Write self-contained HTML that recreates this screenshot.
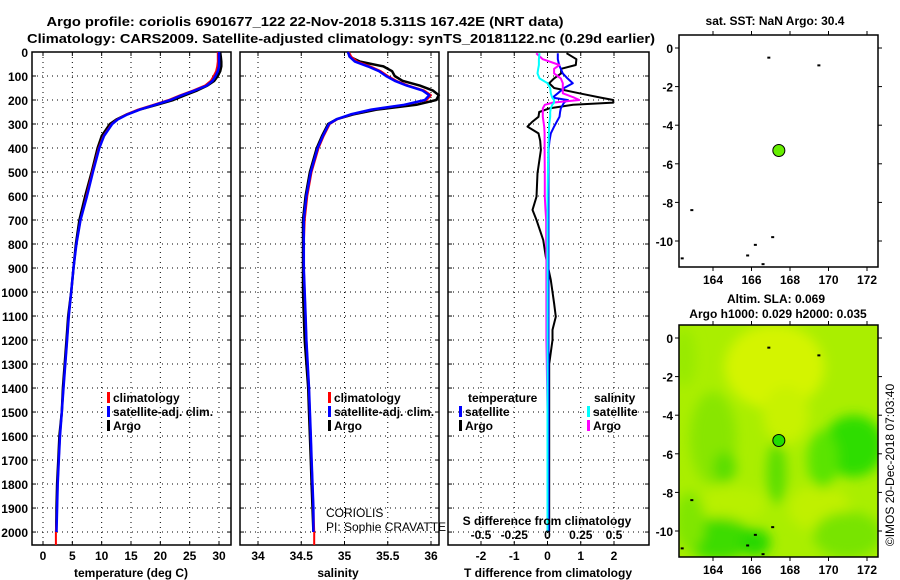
<!DOCTYPE html>
<html><head><meta charset="utf-8"><style>
html,body{margin:0;padding:0;background:#fff;}
svg{display:block;font-family:"Liberation Sans",sans-serif;}
.b{font-weight:bold;font-size:12px;}
</style></head><body>
<svg id="chart" width="900" height="580" viewBox="0 0 900 580" xmlns="http://www.w3.org/2000/svg">
<defs><filter id="blur" x="-20%" y="-20%" width="140%" height="140%"><feGaussianBlur stdDeviation="6"/></filter>
<clipPath id="mapclip"><rect x="679" y="325" width="199" height="232"/></clipPath></defs>
<text x="305" y="26" text-anchor="middle" font-weight="bold" font-size="13" textLength="517" lengthAdjust="spacingAndGlyphs">Argo profile: coriolis 6901677_122 22-Nov-2018 5.311S 167.42E (NRT data)</text>
<text x="341" y="43" text-anchor="middle" font-weight="bold" font-size="13" textLength="628" lengthAdjust="spacingAndGlyphs">Climatology: CARS2009. Satellite-adjusted climatology: synTS_20181122.nc (0.29d earlier)</text>
<g id="g"></g>
</svg>
<script>
// ---- data ----
const depthT = [0,20,40,60,80,100,120,140,160,180,200,220,240,260,280,300,350,400,500,600,700,800,900,1000,1100,1200,1400,1500,1600,1700,1800,1900,2000];
const tempArgo = [30.2,30.3,30.4,30.4,30.2,29.8,29.2,28.0,26.3,24.2,22.2,19.4,16.5,14.3,12.6,11.4,10.0,9.3,8.3,7.2,6.2,5.6,5.2,4.8,4.3,4.0,3.4,3.2,2.8,2.6,2.4,2.3,2.25];
const tempClim = [29.8,29.8,29.8,29.7,29.5,29.1,28.6,27.6,25.6,23.4,21.4,18.8,16.2,14.2,12.7,11.7,10.3,9.5,8.4,7.4,6.4,5.7,5.2,4.8,4.4,4.1,3.5,3.2,2.9,2.7,2.5,2.4,2.2];
const tempSat  = [30.0,30.0,30.0,30.0,29.8,29.4,28.9,27.9,25.9,23.7,21.7,19.1,16.5,14.4,12.8,11.8,10.4,9.6,8.5,7.5,6.4,5.7,5.2,4.8,4.4,4.1,3.5,3.2,2.9,2.7,2.5,2.4,2.3];
const salArgo = [35.04,35.06,35.18,35.45,35.55,35.58,35.67,35.87,36.02,36.09,36.06,35.83,35.37,35.10,34.91,34.81,34.74,34.68,34.60,34.55,34.52,34.52,34.52,34.52,34.53,34.54,34.58,34.59,34.60,34.61,34.62,34.63,34.64];
const salClim = [35.05,35.08,35.15,35.30,35.42,35.50,35.60,35.74,35.92,36.00,35.95,35.70,35.32,35.08,34.92,34.83,34.76,34.70,34.62,34.57,34.54,34.53,34.53,34.54,34.55,34.56,34.59,34.60,34.61,34.62,34.63,34.64,34.65];
const salSat  = [35.04,35.06,35.12,35.27,35.40,35.48,35.58,35.72,35.90,35.98,35.93,35.69,35.31,35.07,34.91,34.82,34.75,34.69,34.61,34.56,34.53,34.53,34.53,34.54,34.55,34.56,34.59,34.60,34.61,34.62,34.63,34.64,34.64];
const depthD = [5,30,54,70,89,110,130,150,172,190,200,211,220,235,250,270,290,311,339,370,408,505,603,658,700,783,853,950,1047,1103,1158,1200,1300,1500,1700,1900,2000];
const tDiffArgo = [0.57,0.87,0.85,0.41,0.41,0.2,0.05,0.2,0.96,1.6,1.98,1.98,0.77,0.05,-0.25,-0.27,-0.45,-0.6,-0.27,-0.22,-0.2,-0.3,-0.33,-0.45,-0.33,-0.13,-0.05,0.1,0.2,0.25,0.15,0.15,0.05,0.05,0.05,0.05,0.05];
const tDiffSat  = [0.31,0.31,0.35,0.4,0.46,0.6,0.76,0.5,0.31,0.15,0.6,0.5,0.46,0.4,0.38,0.36,0.28,0.2,0.1,0.06,0.03,0.03,0.03,0.03,0.03,0.03,0.03,0.03,0.03,0.03,0.03,0.03,0.03,0.03,0.03,0.03,0.03];
const sDiffArgo = [-0.085,-0.035,0.09,0.05,0.05,0.1,0.115,0.115,0.115,0.2,0.24,0.04,-0.02,-0.035,-0.035,-0.035,-0.03,-0.025,-0.022,-0.022,-0.022,-0.02,-0.02,-0.015,-0.01,-0.01,-0.008,-0.008,-0.008,-0.008,-0.008,-0.008,-0.005,0,0,0,0];
const sDiffSat  = [-0.06,-0.065,-0.065,-0.07,-0.075,-0.06,0,0.02,0.025,0.035,0.05,0.05,0.035,0.025,0.02,0.02,0.015,0.012,0.01,0.008,0.005,0.003,0,0,0,0,0,0,0,0,0,0,0,0,0,0,0];
const depthTicks = [0,100,200,300,400,500,600,700,800,900,1000,1100,1200,1300,1400,1500,1600,1700,1800,1900,2000];
const tempTicks = [0,5,10,15,20,25,30];
const salTicks = [34,34.5,35,35.5,36];
const salTickLabels = ["34","34.5","35","35.5","36"];
const tdTicks = [-2,-1,0,1,2];
const sdTicks = [-0.5,-0.25,0,0.25,0.5];
const sdTickLabels = ["-0.5","-0.25","0","0.25","0.5"];
const lonTicks = [164,166,168,170,172];
const latTicks = [0,-2,-4,-6,-8,-10];
const argoLon = 167.42, argoLat = -5.311;

// ---- helpers ----
const NS="http://www.w3.org/2000/svg", G=document.getElementById('g');
function el(tag,attrs,parent,txt){const e=document.createElementNS(NS,tag);for(const k in attrs)e.setAttribute(k,attrs[k]);if(txt!==undefined)e.textContent=txt;(parent||G).appendChild(e);return e;}
const Y0=52,Y1=545,D1=2054;
const y=d=>Y0+(Y1-Y0)*d/D1;
function lin(d0,d1,p0,p1){return v=>p0+(v-d0)/(d1-d0)*(p1-p0);}
const panels=[
 {x0:32,x1:231,sx:lin(0,30,43,219)},
 {x0:240,x1:439,sx:lin(34,36,258,431)},
 {x0:448,x1:649,sx:lin(-2,2,481,614)}
];
const sdx=lin(-0.5,0.5,481,614);

function frame(p,name,ticks,sx){
  const g=el('g',{});
  
  
  ticks.forEach(t=>{const e=el('line',{x1:sx(t),x2:sx(t),y1:Y0,y2:Y1,stroke:'#000','stroke-width':1,'stroke-dasharray':'1,4'},g);
    
    el('line',{x1:sx(t),x2:sx(t),y1:Y0,y2:Y0+4,stroke:'#000'},g);el('line',{x1:sx(t),x2:sx(t),y1:Y1,y2:Y1-4,stroke:'#000'},g);});
  depthTicks.forEach(d=>{const e=el('line',{x1:p.x0,x2:p.x1,y1:y(d),y2:y(d),stroke:'#000','stroke-width':1,'stroke-dasharray':'1,4'},g);
    
    el('line',{x1:p.x0,x2:p.x0+4,y1:y(d),y2:y(d),stroke:'#000'},g);el('line',{x1:p.x1,x2:p.x1-4,y1:y(d),y2:y(d),stroke:'#000'},g);});
  const r=el('rect',{x:p.x0,y:Y0,width:p.x1-p.x0,height:Y1-Y0,fill:'none',stroke:'#000','stroke-width':1.5},g);
  
  return g;
}
function line(depths,vals,sx,color,w,name){
  const pts=vals.map((v,i)=>sx(v).toFixed(1)+','+y(depths[i]).toFixed(1)).join(' ');
  const e=el('polyline',{points:pts,fill:'none',stroke:color,'stroke-width':w,'stroke-linejoin':'round'});
  
  
}
function txt(x,yy,s,name,extra){const e=el('text',Object.assign({x:x,y:yy,class:'b'},extra||{}),G,s);
  return e;}

// panels
frame(panels[0],'temperature-panel',tempTicks,panels[0].sx);
frame(panels[1],'salinity-panel',salTicks,panels[1].sx);
frame(panels[2],'difference-panel',tdTicks,panels[2].sx);

// depth labels
depthTicks.forEach(d=>txt(28,y(d)+5,String(d),'depth-tick-label',{'text-anchor':'end'}));

// temperature series
line(depthT,tempArgo,panels[0].sx,'#000',2.5,'temp-argo-line');
line(depthT.concat([2054]),tempClim.concat([2.2]),panels[0].sx,'#f00',2,'temp-climatology-line');
line(depthT,tempSat,panels[0].sx,'#00f',2.5,'temp-satellite-line');
// salinity series
line(depthT,salArgo,panels[1].sx,'#000',2.5,'sal-argo-line');
line(depthT.concat([2054]),salClim.concat([34.65]),panels[1].sx,'#f00',2,'sal-climatology-line');
line(depthT,salSat,panels[1].sx,'#00f',2.5,'sal-satellite-line');
// difference series
line(depthD,tDiffArgo,panels[2].sx,'#000',2,'tdiff-argo-line');
line(depthD,tDiffSat,panels[2].sx,'#00f',2,'tdiff-satellite-line');
line(depthD,sDiffArgo,sdx,'#f0f',2,'sdiff-argo-line');
line(depthD,sDiffSat,sdx,'#0ff',2,'sdiff-satellite-line');

// x tick labels
tempTicks.forEach(t=>txt(panels[0].sx(t),560,String(t),'temp-tick-label',{'text-anchor':'middle'}));
salTicks.forEach((t,i)=>txt(panels[1].sx(t),560,salTickLabels[i],'sal-tick-label',{'text-anchor':'middle'}));
tdTicks.forEach(t=>txt(panels[2].sx(t),560,String(t),'tdiff-tick-label',{'text-anchor':'middle'}));
sdTicks.forEach((t,i)=>txt(sdx(t),539,sdTickLabels[i],'sdiff-tick-label',{'text-anchor':'middle'}));
txt(131,577,'temperature (deg C)','temp-axis-title',{'text-anchor':'middle'});
txt(338,577,'salinity','sal-axis-title',{'text-anchor':'middle'});
txt(548,577,'T difference from climatology','tdiff-axis-title',{'text-anchor':'middle'});
txt(547,525,'S difference from climatology','sdiff-axis-title',{'text-anchor':'middle'});

// legends
function leg(x,yy,color,label,name){const r=el('rect',{x:x,y:yy-10,width:3,height:11,fill:color});
  
  txt(x+6,yy,label,name);}
[[107,'climatology','#f00'],[107,'satellite-adj. clim.','#00f'],[107,'Argo','#000']].forEach((l,i)=>leg(l[0],402+i*14,l[2],l[1],'temp-legend-entry'));
[[328,'climatology','#f00'],[328,'satellite-adj. clim.','#00f'],[328,'Argo','#000']].forEach((l,i)=>leg(l[0],402+i*14,l[2],l[1],'sal-legend-entry'));
txt(468,402,'temperature','tdiff-legend-title');
leg(459,416,'#00f','satellite','tdiff-legend-entry');
leg(459,430,'#000','Argo','tdiff-legend-entry');
txt(594,402,'salinity','sdiff-legend-title');
leg(587,416,'#0ff','satellite','sdiff-legend-entry');
leg(587,430,'#f0f','Argo','sdiff-legend-entry');
txt(326,517,'CORIOLIS','institution-label',{class:'',style:'font-size:12px'});
txt(326,531,'PI: Sophie CRAVATTE','pi-label',{class:'',style:'font-size:12px'});

// maps
function map(y0,y1,lat0y,lat10y,name,heat){
  const x0=679,x1=878,lx=lin(164,172,713,867),ly=lin(0,-10,lat0y,lat10y);
  const g=el('g',{});
  
  
  if(heat){
    el('rect',{x:x0,y:y0,width:x1-x0,height:y1-y0,fill:'#aaee00'},g);
    const hg=el('g',{'clip-path':'url(#mapclip)'},g);
    const hb=el('g',{filter:'url(#blur)'},hg);
    [[167.2,-1.5,2.6,2.2,'#d4f400'],[167.8,-4,1.2,1.5,'#c8f200'],[169.5,-8.8,1.6,1.2,'#c0f000'],[165,-8.6,1.8,0.9,'#b8f000'],
     [164,-5.2,1.2,2.4,'#88e600'],[164.6,-6.7,0.6,0.8,'#5ade00'],[167.3,-7,0.5,1.6,'#5ade00'],
     [171.3,-5.6,1.6,1.6,'#2edd00'],[169.7,-6.3,0.8,1.5,'#5ae400'],[164.3,-10.4,1.8,1.1,'#3edc00'],[166.2,-10.6,0.8,0.7,'#28d800'],
     [171,-10.2,1.8,1.2,'#78e400'],[162.5,-1,0.6,1.5,'#98ea00'],[162.8,-9.5,0.8,1.5,'#80e600']].forEach(b=>
      el('ellipse',{cx:lx(b[0]),cy:ly(b[1]),rx:b[2]*19.2,ry:b[3]*19.3,fill:b[4]},hb));
  }
  [[166.9,-0.5],[169.5,-0.9],[162.9,-8.4],[167.1,-9.8],[166.2,-10.2],[165.8,-10.75],[162.4,-10.9],[166.6,-11.2]].forEach(p=>
    el('rect',{x:lx(p[0])-1.5,y:ly(p[1])-1,width:3,height:2,fill:'#000'},g));
  el('rect',{x:x0,y:y0,width:x1-x0,height:y1-y0,fill:'none',stroke:'#000','stroke-width':1.5},g);
  lonTicks.forEach(t=>{el('line',{x1:lx(t),x2:lx(t),y1:y0,y2:y0-4,stroke:'#000'},g);el('line',{x1:lx(t),x2:lx(t),y1:y1,y2:y1+4,stroke:'#000'},g);
    txt(lx(t),y1+17,String(t),'lon-tick-label',{'text-anchor':'middle'});});
  latTicks.forEach(t=>{el('line',{x1:x0,x2:x0-4,y1:ly(t),y2:ly(t),stroke:'#000'},g);el('line',{x1:x1,x2:x1+4,y1:ly(t),y2:ly(t),stroke:'#000'},g);
    txt(x0-6,ly(t)+5,String(t),'lat-tick-label',{'text-anchor':'end'});});
  const c=el('circle',{cx:lx(argoLon),cy:ly(argoLat),r:6,fill:heat?'#22dd00':'#66ee00',stroke:'#000','stroke-width':1},g);
  
  
}
map(35,267,48,241,'sst-map',false);
map(325,557,338,531,'sla-map',true);
txt(775,25,'sat. SST: NaN Argo: 30.4','sst-map-title',{'text-anchor':'middle'});
txt(776,303,'Altim. SLA: 0.069','sla-map-title',{'text-anchor':'middle'});
txt(778,318,'Argo h1000: 0.029 h2000: 0.035','sla-map-subtitle',{'text-anchor':'middle'});
txt(894,465,'©IMOS 20-Dec-2018 07:03:40','imos-timestamp',{class:'',style:'font-size:12px','text-anchor':'middle',transform:'rotate(-90 894 465)'});
</script>
</body></html>
